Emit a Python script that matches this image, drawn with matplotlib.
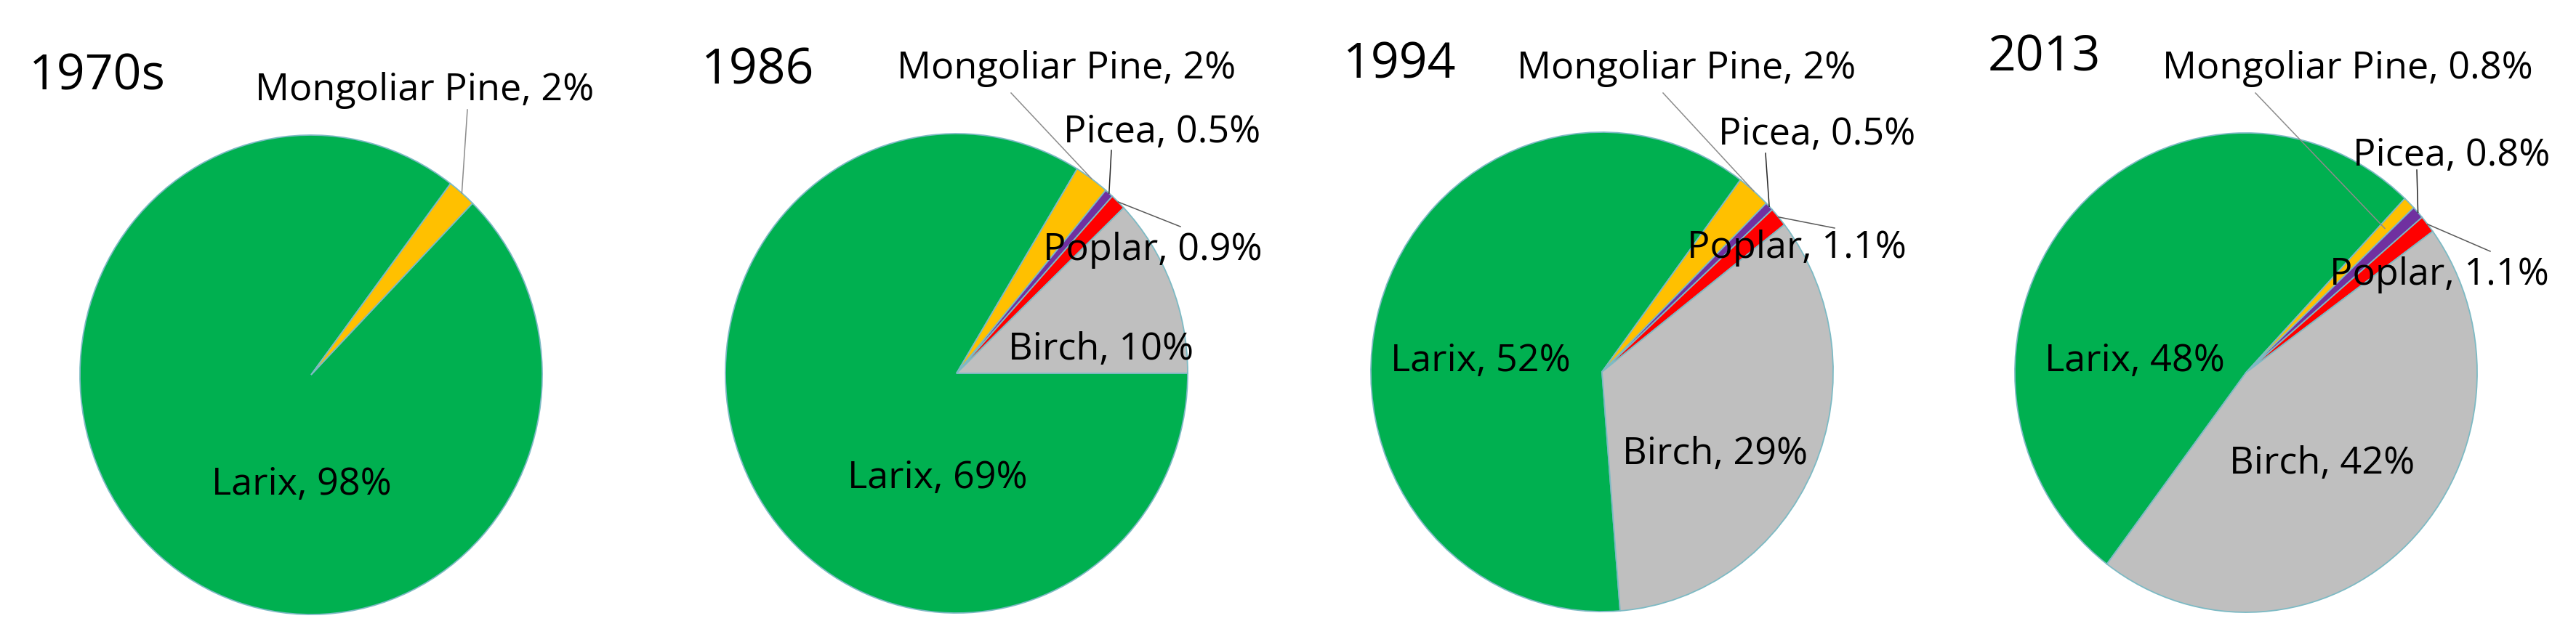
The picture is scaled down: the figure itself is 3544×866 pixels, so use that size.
"""Forest composition pies - share of species per survey year."""
import matplotlib
import matplotlib.pyplot as plt
import numpy as np

matplotlib.use("Agg")

plt.rcParams["font.family"] = ["Open Sans", "DejaVu Sans"]

# canvas in pixels (dpi 100)
W, H = 3544, 866
DPI = 100

# ---------------------------------------------------------------------------
# data (percent, as labelled in the original)
# ---------------------------------------------------------------------------
years = ["1970s", "1986", "1994", "2013"]
species = ["Larix", "Mongoliar Pine", "Picea", "Poplar", "Birch"]
larix = [98, 69, 52, 48]
mongoliar_pine = [2, 2, 2, 0.8]
picea = [0, 0.5, 0.5, 0.8]
poplar = [0, 0.9, 1.1, 1.1]
birch = [0, 10, 29, 42]

colors = {
    "Larix": "#00B050",
    "Mongoliar Pine": "#FFC000",
    "Picea": "#7030A0",
    "Poplar": "#FF0000",
    "Birch": "#BFBFBF",
}
_EDGE = "#7dbac4"

# ---------------------------------------------------------------------------
# layout (pixels on the 3544x866 canvas)
# ---------------------------------------------------------------------------
pie_centers = [(428, 516), (1316, 514), (2204, 512), (3090, 513)]
RX, RY = 318, 330
start_angles = [45.7, 0, -85.5, -127]

title_pos = [(40, 124), (965, 115), (1848, 108), (2735, 97)]

# species -> (text centre x, baseline y, leader end or None, leader tip radius)
label_layout = [
    {
        "Larix": (415, 681, None, 1.0),
        "Mongoliar Pine": (584, 138, (643, 151), 1.0),
    },
    {
        "Larix": (1290, 672, None, 1.0),
        "Mongoliar Pine": (1467, 108, (1391, 128), 1.0),
        "Picea": (1599, 196, (1529, 207), 1.0),
        "Poplar": (1586, 358, (1624, 312), 1.0),
        "Birch": (1515, 495, None, 1.0),
    },
    {
        "Larix": (2037, 511, None, 1.0),
        "Mongoliar Pine": (2320, 108, (2288, 128), 1.0),
        "Picea": (2500, 199, (2429, 211), 1.0),
        "Poplar": (2472, 355, (2524, 314), 1.0),
        "Birch": (2360, 639, None, 1.0),
    },
    {
        "Larix": (2937, 511, None, 1.0),
        "Mongoliar Pine": (3230, 108, (3103, 128), 0.85),
        "Picea": (3373, 228, (3325, 234), 1.0),
        "Poplar": (3356, 392, (3426, 346), 1.0),
        "Birch": (3195, 652, None, 1.0),
    },
]
leader_colors = {"Mongoliar Pine": "#8c8c8c", "Picea": "#262626", "Poplar": "#595959"}


def to_pie(i, x, y):
    cx, cy = pie_centers[i]
    return (x - cx) / RX, (cy - y) / RY


fig = plt.figure(figsize=(W / DPI, H / DPI), dpi=DPI)
fig.patch.set_facecolor("white")

for i, year in enumerate(years):
    cx, cy = pie_centers[i]
    ax = fig.add_axes([(cx - RX) / W, (H - cy - RY) / H, 2 * RX / W, 2 * RY / H])

    values = [larix[i], mongoliar_pine[i], picea[i], poplar[i], birch[i]]
    names = [n for n, v in zip(species, values) if v > 0]
    vals = [v for v in values if v > 0]

    wedges, _ = ax.pie(
        vals,
        colors=[colors[n] for n in names],
        startangle=start_angles[i],
        counterclock=False,
        radius=1.0,
        wedgeprops=dict(edgecolor=_EDGE, linewidth=1.3),
    )
    ax.set_xlim(-1, 1)
    ax.set_ylim(-1, 1)
    ax.set_aspect("auto")
    ax.axis("off")

    # year title
    tx, ty = to_pie(i, *title_pos[i])
    ax.text(tx, ty, year, ha="left", va="baseline", fontsize=49, color="black")

    for w, name, v in zip(wedges, names, vals):
        lx, ly, end, tip_r = label_layout[i][name]
        u, t = to_pie(i, lx, ly)
        ax.text(u, t, f"{name}, {v:g}%", ha="center", va="baseline",
                fontsize=37.5, color="black", zorder=5)
        if end is not None:
            mid = np.deg2rad((w.theta1 + w.theta2) / 2)
            ex, ey = to_pie(i, *end)
            ax.plot([tip_r * np.cos(mid), ex], [tip_r * np.sin(mid), ey],
                    color=leader_colors[name], linewidth=1.1,
                    clip_on=False, zorder=4)

fig.savefig("out.png", dpi=DPI, facecolor="white")
plt.close(fig)
